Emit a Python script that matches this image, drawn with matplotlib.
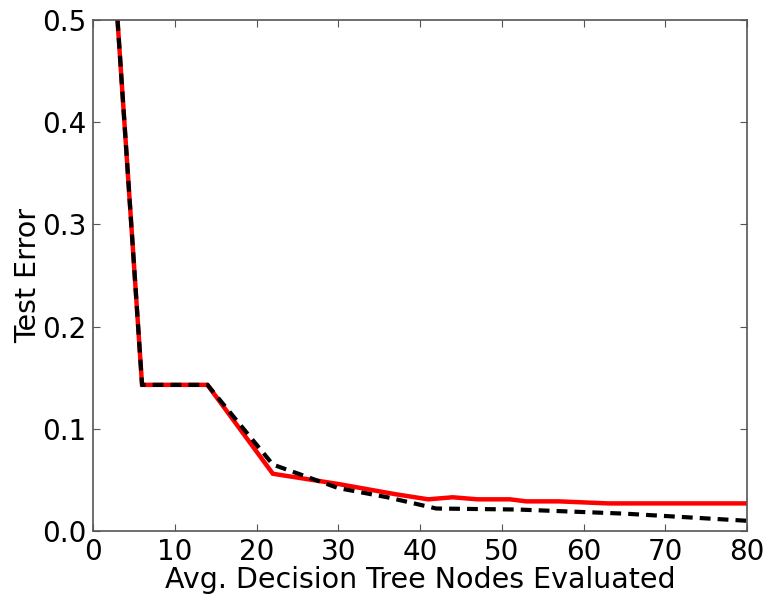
import matplotlib
matplotlib.use("Agg")
import matplotlib.pyplot as plt

x_red = [3, 6, 14, 22, 30, 37, 41, 44, 47, 51, 53, 57, 63, 80]
y_red = [0.5, 0.143, 0.143, 0.056, 0.046, 0.036, 0.031, 0.033, 0.031, 0.031, 0.029, 0.029, 0.027, 0.027]

x_black = [3, 6, 14, 22, 30, 36, 42, 52, 65, 80]
y_black = [0.5, 0.143, 0.143, 0.065, 0.042, 0.033, 0.022, 0.021, 0.017, 0.010]

xticks = [0, 10, 20, 30, 40, 50, 60, 70, 80]
yticks = [0.0, 0.1, 0.2, 0.3, 0.4, 0.5]

plt.rcParams['font.family'] = ['DejaVu Sans']
fig = plt.figure(figsize=(7.66, 5.94), dpi=100)
ax = fig.add_axes([93/766, 63/594, 654/766, 511/594])

ax.plot(x_red, y_red, color='red', lw=3.2, solid_joinstyle='miter')
ax.plot(x_black, y_black, color='black', lw=3.0, dashes=[2.6, 1.7])

ax.set_xlim(0, 80)
ax.set_ylim(0, 0.5)
ax.set_xticks(xticks)
ax.set_yticks(yticks)
ax.set_xticklabels([str(v) for v in xticks])
ax.set_yticklabels([f"{v:.1f}" for v in yticks])
ax.tick_params(direction='in', top=True, right=True, length=5, width=0.8,
               labelsize=20, pad=5, color='#555555')
for s in ax.spines.values():
    s.set_color('#555555')
    s.set_linewidth(1.2)
ax.set_xlabel('Avg. Decision Tree Nodes Evaluated', fontsize=20.5, labelpad=0)
ax.set_ylabel('Test Error', fontsize=20.5, labelpad=0)

fig.savefig('out.png', dpi=100, facecolor='white')
